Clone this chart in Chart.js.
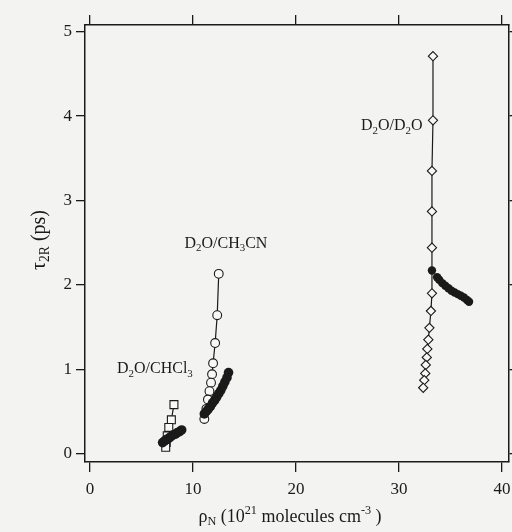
<!DOCTYPE html>
<html>
<head>
<meta charset="UTF-8">
<title>tau2R vs rhoN</title>
<style>
  html, body { margin: 0; padding: 0; background: #f3f3f1; }
  #wrap { width: 512px; height: 532px; }
</style>
</head>
<body>
<div id="wrap"><canvas id="chart" width="512" height="532"></canvas></div>
<script src="https://cdn.jsdelivr.net/npm/chart.js"></script>
<script>
// values (rhoN in 1e21 molecules/cm3, tau2R in ps)
const chcl3OpenX = [8.15, 7.9, 7.65, 7.5, 7.4, 7.35];
const chcl3OpenY = [0.58, 0.40, 0.31, 0.21, 0.13, 0.075];
const chcl3FillX = [7.05, 7.25, 7.45, 7.65, 7.85, 8.05, 8.3, 8.5, 8.7, 8.9];
const chcl3FillY = [0.13, 0.15, 0.17, 0.18, 0.20, 0.22, 0.23, 0.25, 0.26, 0.28];

const mecnOpenX = [12.5, 12.35, 12.15, 11.95, 11.85, 11.75, 11.6, 11.45, 11.3, 11.1];
const mecnOpenY = [2.13, 1.64, 1.31, 1.07, 0.94, 0.84, 0.74, 0.64, 0.53, 0.41];
const mecnFillX = [11.1, 11.3, 11.5, 11.7, 11.9, 12.1, 12.3, 12.5, 12.7, 12.9, 13.1, 13.3, 13.45];
const mecnFillY = [0.47, 0.50, 0.53, 0.56, 0.60, 0.63, 0.67, 0.71, 0.75, 0.80, 0.85, 0.90, 0.96];

const d2oOpenX = [33.3, 33.3, 33.2, 33.2, 33.2, 33.2, 33.1, 32.95, 32.85, 32.75, 32.7, 32.6, 32.55, 32.45, 32.35];
const d2oOpenY = [4.71, 3.95, 3.35, 2.87, 2.44, 1.90, 1.69, 1.49, 1.35, 1.24, 1.14, 1.05, 0.95, 0.87, 0.78];
const d2oFillX = [33.2, 33.7, 33.9, 34.2, 34.5, 34.8, 35.1, 35.4, 35.7, 36.0, 36.3, 36.6, 36.8];
const d2oFillY = [2.17, 2.09, 2.06, 2.02, 1.99, 1.96, 1.93, 1.91, 1.89, 1.87, 1.85, 1.82, 1.80];

const xTicks = [0, 10, 20, 30, 40];
const yTicks = [0, 1, 2, 3, 4, 5];
const xMin = -0.485, xMax = 40.68;
const yMin = -0.1, yMax = 5.08;

// labels: [text parts], position in data units
const seriesLabels = [
  { parts: [['D'], ['2', 'sub'], ['O/D'], ['2', 'sub'], ['O']], x: 29.3, y: 3.88 },
  { parts: [['D'], ['2', 'sub'], ['O/CH'], ['3', 'sub'], ['CN']], x: 13.2, y: 2.49 },
  { parts: [['D'], ['2', 'sub'], ['O/CHCl'], ['3', 'sub']], x: 6.3, y: 1.0 }
];

const serif = '"Liberation Serif", "DejaVu Serif", serif';
const ink = '#1a1a1a';
const paper = '#f8f8f6';

function pts(xs, ys) {
  return xs.map((x, i) => ({ x: x, y: ys[i] }));
}

// draw text made of normal / sub / sup pieces, centred on (x, y)
function drawRich(ctx, parts, x, y, size) {
  let w = 0;
  const pieces = parts.map(p => {
    const s = p[1] ? size * 0.68 : size;
    ctx.font = s + 'px ' + serif;
    const pw = ctx.measureText(p[0]).width;
    w += pw;
    return { t: p[0], s: s, w: pw, kind: p[1] };
  });
  let cx = x - w / 2;
  ctx.textBaseline = 'middle';
  ctx.textAlign = 'left';
  pieces.forEach(p => {
    ctx.font = p.s + 'px ' + serif;
    let dy = 0;
    if (p.kind === 'sub') dy = size * 0.28;
    if (p.kind === 'sup') dy = -size * 0.32;
    ctx.fillText(p.t, cx, y + dy);
    cx += p.w;
  });
}

const textPlugin = {
  id: 'texts',
  afterDraw(chart) {
    const ctx = chart.ctx;
    const xs = chart.scales.x, ys = chart.scales.y;
    ctx.save();
    ctx.fillStyle = ink;
    // x tick labels (drawn here so the "40" may run to the page edge)
    ctx.font = '17px ' + serif;
    ctx.textAlign = 'center';
    ctx.textBaseline = 'middle';
    xTicks.forEach(v => ctx.fillText(String(v), xs.getPixelForValue(v), 490));
    seriesLabels.forEach(l => {
      drawRich(ctx, l.parts, xs.getPixelForValue(l.x), ys.getPixelForValue(l.y), 16);
    });
    // x axis title
    drawRich(ctx, [['ρ'], ['N', 'sub'], [' (10'], ['21', 'sup'], [' molecules cm'], ['-3', 'sup'], [' )']], 290, 517, 18);
    // y axis title
    ctx.translate(40, 240);
    ctx.rotate(-Math.PI / 2);
    drawRich(ctx, [['τ'], ['2R', 'sub'], [' (ps)']], 0, 0, 20);
    ctx.restore();
  }
};

const tickFont = { family: serif, size: 17 };
const gridOpts = { drawOnChartArea: false, tickLength: 9, color: ink, lineWidth: 1.3 };
const borderOpts = { color: ink, width: 1.5 };

const openLine = { showLine: true, borderColor: ink, borderWidth: 1.2, pointBorderColor: ink, pointBackgroundColor: paper, pointBorderWidth: 1.1 };
const filled = { showLine: false, pointBackgroundColor: ink, pointBorderColor: ink, pointBorderWidth: 0, pointRadius: 4.2 };

new Chart(document.getElementById('chart'), {
  type: 'scatter',
  data: {
    datasets: [
      Object.assign({ label: 'D2O/D2O filled', data: pts(d2oFillX, d2oFillY), pointStyle: 'circle' }, filled),
      Object.assign({ label: 'D2O/CH3CN filled', data: pts(mecnFillX, mecnFillY), pointStyle: 'circle' }, filled, { pointRadius: 4.8 }),
      Object.assign({ label: 'D2O/CHCl3 filled', data: pts(chcl3FillX, chcl3FillY), pointStyle: 'circle' }, filled, { pointRadius: 4.8 }),
      Object.assign({ label: 'D2O/D2O', data: pts(d2oOpenX, d2oOpenY), pointStyle: 'rectRot', pointRadius: 4.6 }, openLine),
      Object.assign({ label: 'D2O/CH3CN', data: pts(mecnOpenX, mecnOpenY), pointStyle: 'circle', pointRadius: 4.4 }, openLine),
      Object.assign({ label: 'D2O/CHCl3', data: pts(chcl3OpenX, chcl3OpenY), pointStyle: 'rect', pointRadius: 5.6 }, openLine)
    ]
  },
  options: {
    responsive: false,
    animation: false,
    events: [],
    layout: { padding: 0, autoPadding: false },
    plugins: { legend: { display: false }, tooltip: { enabled: false } },
    scales: {
      x: {
        type: 'linear', position: 'bottom', min: xMin, max: xMax,
        afterBuildTicks: s => { s.ticks = xTicks.map(v => ({ value: v })); },
        ticks: { display: false },
        grid: Object.assign({}, gridOpts, { tickLength: 10 }),
        border: borderOpts,
        afterFit: s => { s.height = 70; }
      },
      x2: {
        type: 'linear', position: 'top', min: xMin, max: xMax,
        afterBuildTicks: s => { s.ticks = xTicks.map(v => ({ value: v })); },
        ticks: { display: false },
        grid: Object.assign({}, gridOpts, { tickLength: 10 }),
        border: borderOpts,
        afterFit: s => { s.height = 25; }
      },
      y: {
        type: 'linear', position: 'left', min: yMin, max: yMax,
        afterBuildTicks: s => { s.ticks = yTicks.map(v => ({ value: v })); },
        ticks: { font: tickFont, color: ink, padding: 4 },
        grid: gridOpts,
        border: borderOpts,
        afterFit: s => { s.width = 85; }
      },
      y2: {
        type: 'linear', position: 'right', min: yMin, max: yMax,
        afterBuildTicks: s => { s.ticks = yTicks.map(v => ({ value: v })); },
        ticks: { display: false },
        grid: gridOpts,
        border: borderOpts,
        afterFit: s => { s.width = 3; }
      }
    }
  },
  plugins: [textPlugin]
});
</script>
</body>
</html>
